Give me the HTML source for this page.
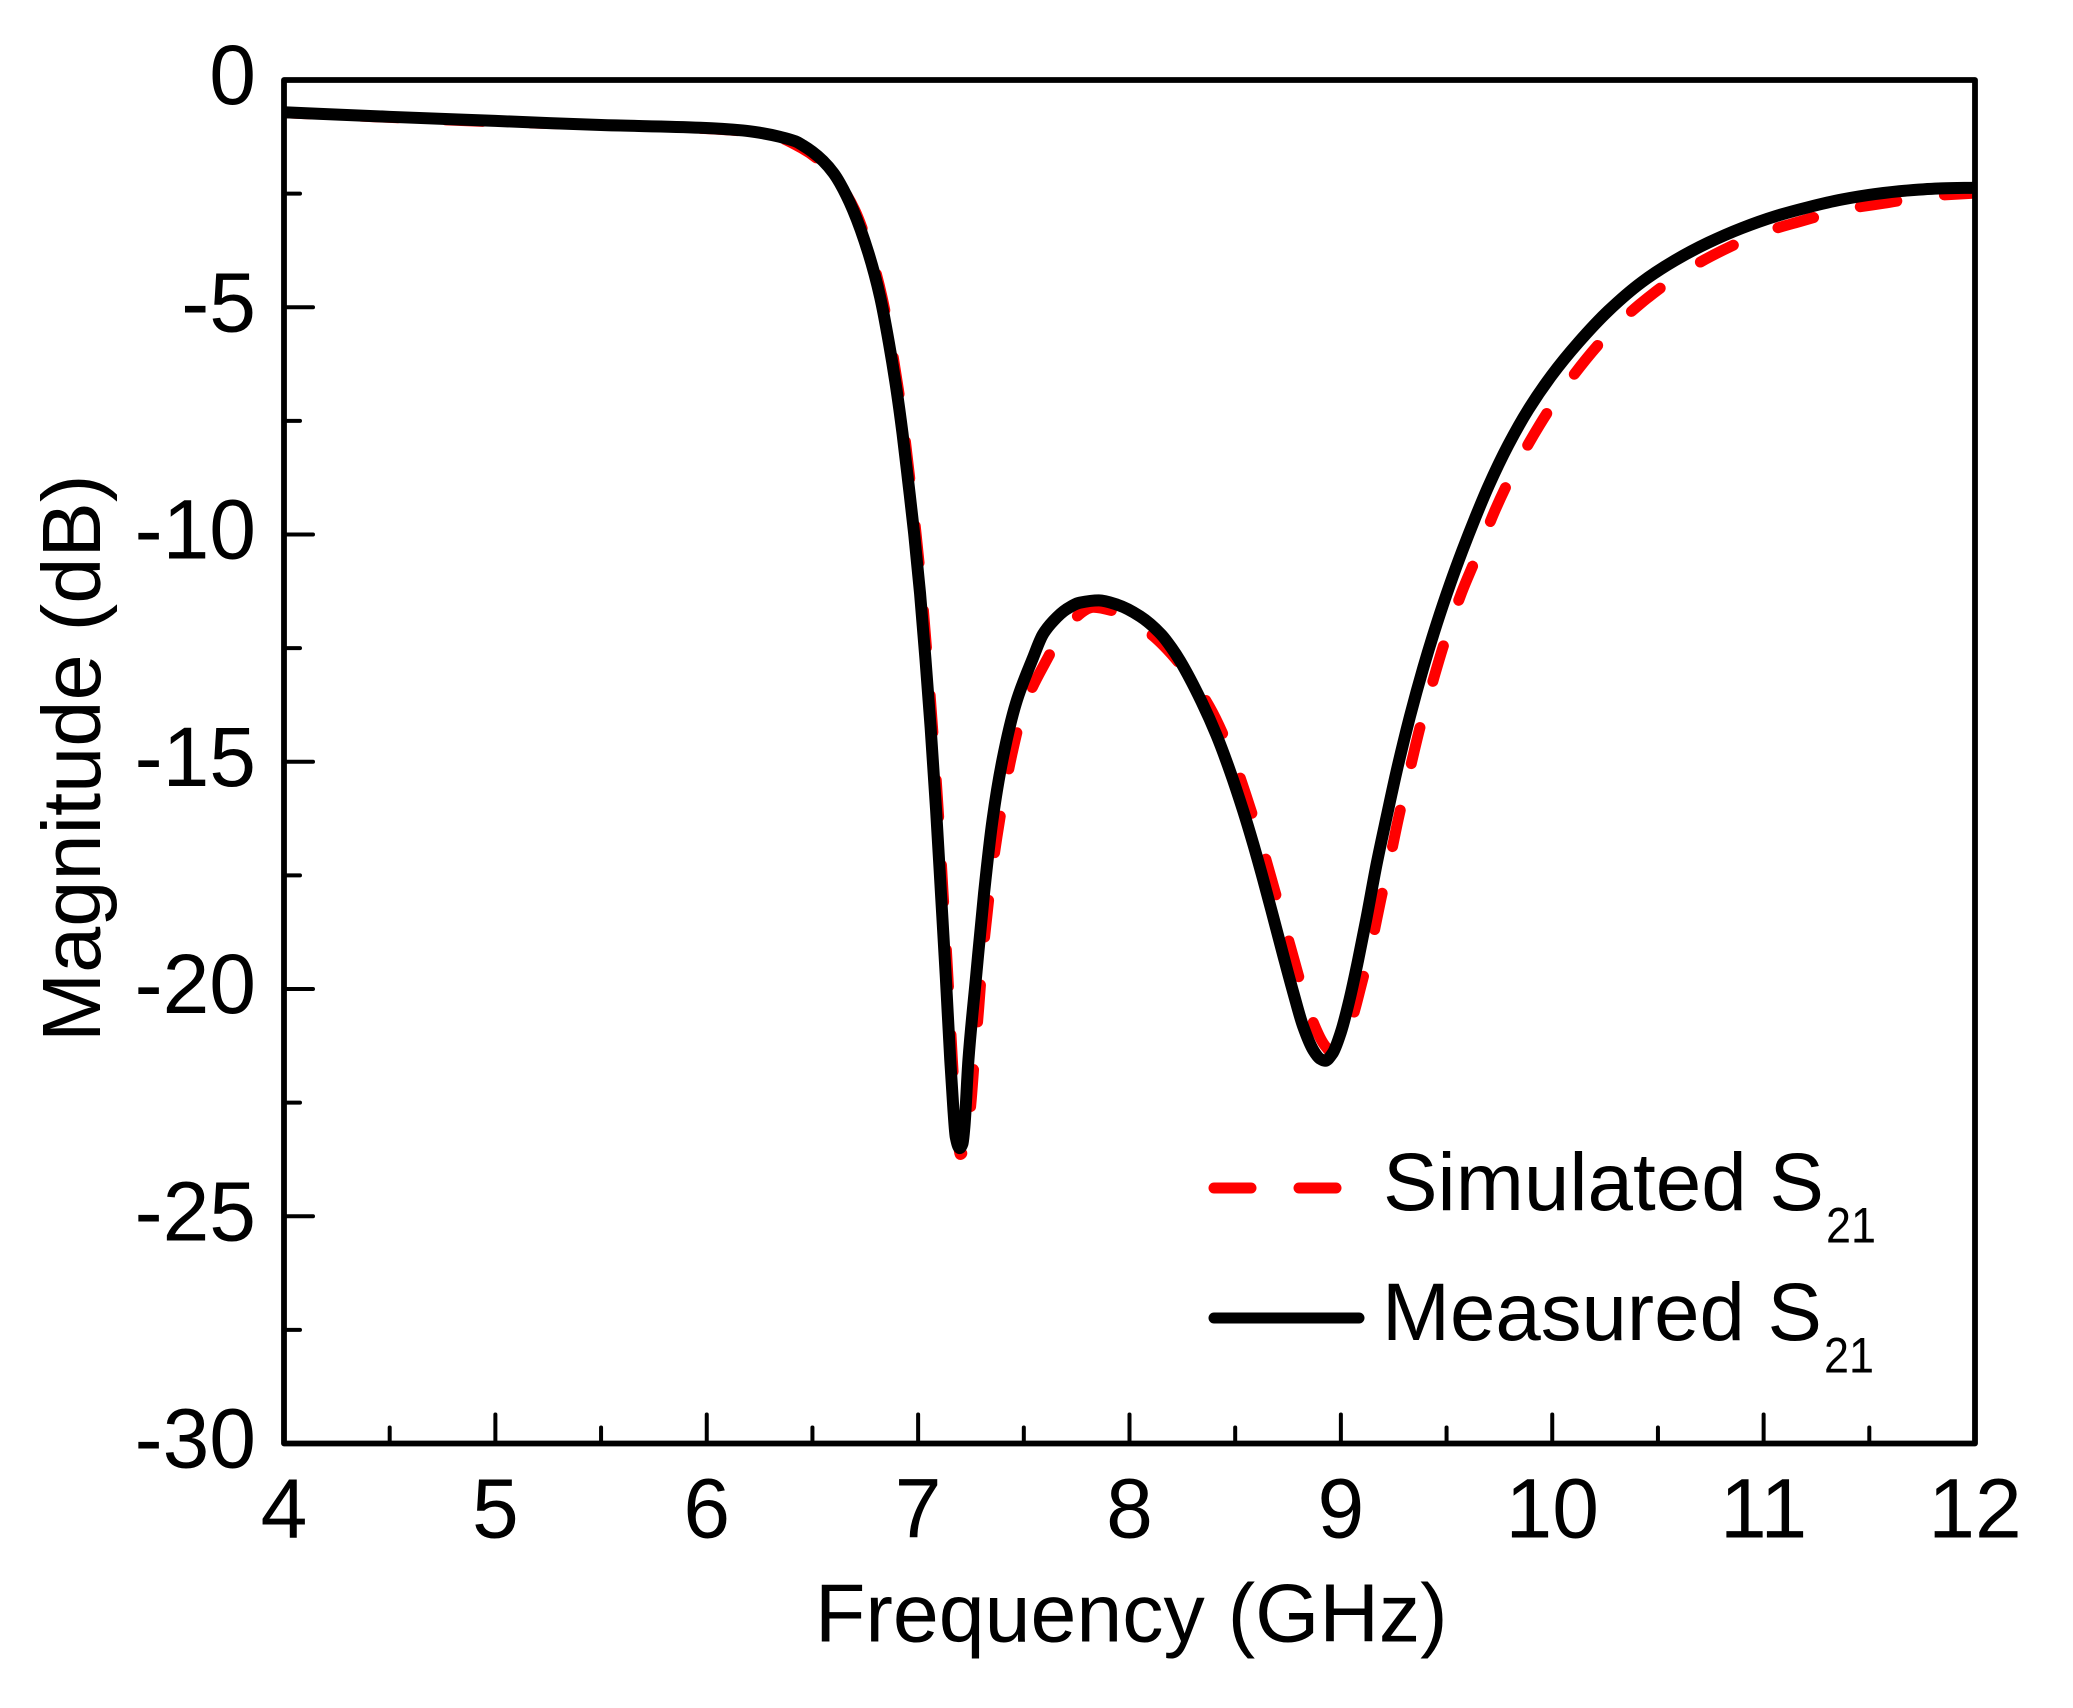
<!DOCTYPE html>
<html lang="en">
<head>
<meta charset="utf-8">
<title>Simulated and measured S21</title>
<style>
html,body{margin:0;padding:0;background:#fff;}
svg{display:block;}
text{font-family:"Liberation Sans",Arial,sans-serif;fill:#000;}
</style>
</head>
<body>
<svg id="chart" xmlns="http://www.w3.org/2000/svg" width="2073" height="1708" viewBox="0 0 2073 1708">
  <defs>
    <clipPath id="plot-clip"><rect x="284" y="80" width="1691" height="1363.5"/></clipPath>
  </defs>
  <rect x="0" y="0" width="2073" height="1708" fill="#fff"/>
  <g id="series" clip-path="url(#plot-clip)"></g>
  <rect x="284" y="80" width="1691" height="1363.5" fill="none" stroke="#000" stroke-width="5.8" stroke-linejoin="round"/>
  <g id="ticks"></g>
  <text x="815" y="1641.5" font-size="82.5">Frequency (GHz)</text>
  <text transform="translate(100 1042) rotate(-90)" x="0" y="0" font-size="83">Magnitude (dB)</text>
  <g>
    <line x1="1214" y1="1188" x2="1251" y2="1188" stroke="#f00" stroke-width="11" stroke-linecap="round"/>
    <line x1="1299" y1="1188" x2="1336" y2="1188" stroke="#f00" stroke-width="11" stroke-linecap="round"/>
    <text x="1383" y="1210" font-size="82" textLength="441" lengthAdjust="spacingAndGlyphs">Simulated S</text>
    <text x="1826" y="1242.5" font-size="50" textLength="50" lengthAdjust="spacingAndGlyphs">21</text>
    <line x1="1214" y1="1318" x2="1359" y2="1318" stroke="#000" stroke-width="11" stroke-linecap="round"/>
    <text x="1382" y="1340" font-size="82" textLength="440" lengthAdjust="spacingAndGlyphs">Measured S</text>
    <text x="1824" y="1372.5" font-size="50" textLength="50" lengthAdjust="spacingAndGlyphs">21</text>
  </g>
</svg>
<script>
const xMajorTicks = [4, 5, 6, 7, 8, 9, 10, 11, 12];
const xMinorTicks = [4.5, 5.5, 6.5, 7.5, 8.5, 9.5, 10.5, 11.5];
const yMajorTicks = [0, -5, -10, -15, -20, -25, -30];
const yMinorTicks = [-2.5, -7.5, -12.5, -17.5, -22.5, -27.5];

const measuredFreq = [4, 4.5, 5, 5.5, 5.97, 6.17, 6.25, 6.346, 6.42, 6.455, 6.5, 6.55, 6.6, 6.63, 6.692, 6.765, 6.82, 6.862, 6.898, 6.926, 6.954, 6.981, 7.009, 7.035, 7.059, 7.085, 7.108, 7.131, 7.152, 7.167, 7.178, 7.196, 7.21, 7.219, 7.238, 7.274, 7.312, 7.352, 7.399, 7.463, 7.543, 7.59, 7.64, 7.7, 7.765, 7.855, 7.945, 8.05, 8.15, 8.2, 8.239, 8.341, 8.412, 8.475, 8.538, 8.586, 8.633, 8.68, 8.728, 8.775, 8.822, 8.87, 8.9, 8.925, 8.96, 9, 9.04, 9.08, 9.12, 9.17, 9.217, 9.264, 9.327, 9.39, 9.453, 9.516, 9.575, 9.634, 9.697, 9.792, 9.887, 9.997, 10.123, 10.265, 10.423, 10.58, 10.738, 10.896, 11.054, 11.21, 11.37, 11.527, 11.685, 11.84, 12];
const measuredDb = [-0.71, -0.81, -0.9, -0.99, -1.05, -1.11, -1.16, -1.25, -1.35, -1.44, -1.58, -1.78, -2.05, -2.27, -2.86, -3.81, -4.77, -5.79, -6.82, -7.77, -8.87, -9.97, -11.29, -12.76, -14.24, -16.06, -17.89, -19.74, -21.56, -22.66, -23.26, -23.5, -23.4, -23.03, -21.56, -19.74, -17.89, -16.28, -14.96, -13.71, -12.72, -12.2, -11.9, -11.65, -11.5, -11.45, -11.55, -11.8, -12.2, -12.5, -12.78, -13.68, -14.42, -15.2, -16.08, -16.82, -17.6, -18.42, -19.27, -20.08, -20.83, -21.35, -21.53, -21.58, -21.42, -20.95, -20.25, -19.4, -18.47, -17.23, -16.2, -15.2, -14, -12.93, -11.97, -11.1, -10.35, -9.65, -8.95, -8.03, -7.25, -6.5, -5.78, -5.08, -4.45, -3.97, -3.58, -3.26, -3, -2.8, -2.63, -2.51, -2.43, -2.385, -2.37];

const simulatedFreq = [4, 5, 6, 6.3, 6.45, 6.55, 6.63, 6.7, 6.774, 6.829, 6.871, 6.907, 6.935, 6.963, 6.99, 7.018, 7.044, 7.068, 7.095, 7.118, 7.141, 7.162, 7.177, 7.188, 7.2, 7.215, 7.234, 7.25, 7.266, 7.287, 7.305, 7.324, 7.347, 7.373, 7.405, 7.443, 7.497, 7.6, 7.718, 7.83, 7.92, 8.09, 8.239, 8.378, 8.5, 8.55, 8.636, 8.68, 8.745, 8.784, 8.83, 8.866, 8.925, 8.965, 9.01, 9.053, 9.097, 9.15, 9.188, 9.236, 9.272, 9.33, 9.374, 9.437, 9.485, 9.571, 9.639, 9.73, 9.816, 9.94, 10.06, 10.246, 10.41, 10.63, 10.81, 10.988, 11.167, 11.393, 11.57, 11.795, 12];
const simulatedDb = [-0.72, -0.92, -1.07, -1.2, -1.5, -1.84, -2.3, -2.86, -3.81, -4.77, -5.79, -6.82, -7.77, -8.87, -9.97, -11.29, -12.76, -14.24, -16.06, -17.89, -19.74, -21.56, -22.66, -23.3, -23.64, -23.55, -23.2, -22.5, -21.55, -20.4, -19.3, -18.45, -17.5, -16.65, -15.75, -14.85, -13.86, -12.83, -11.95, -11.6, -11.68, -12.15, -12.85, -13.79, -15.05, -15.72, -17, -17.72, -18.8, -19.45, -20.2, -20.7, -21.25, -21.42, -21.1, -20.65, -19.9, -18.9, -18.05, -17.05, -16.25, -15.1, -14.25, -13.2, -12.45, -11.28, -10.52, -9.46, -8.62, -7.59, -6.75, -5.68, -4.95, -4.2, -3.74, -3.37, -3.12, -2.84, -2.71, -2.55, -2.49];

const xTickLabels = ["4", "5", "6", "7", "8", "9", "10", "11", "12"];
const yTickLabels = ["0", "-5", "-10", "-15", "-20", "-25", "-30"];

const NS = "http://www.w3.org/2000/svg";
const PLOT = { left: 284, right: 1975, top: 80, bottom: 1443.5 };
const X_MIN = 4, X_MAX = 12, Y_MIN = -30, Y_MAX = 0;

function xScale(v) {
  return PLOT.left + (v - X_MIN) / (X_MAX - X_MIN) * (PLOT.right - PLOT.left);
}
function yScale(v) {
  return PLOT.top + (Y_MAX - v) / (Y_MAX - Y_MIN) * (PLOT.bottom - PLOT.top);
}
/* Monotone cubic interpolation through the data points */
function smoothPath(xs, ys) {
  const px = xs.map(xScale);
  const py = ys.map(yScale);
  const n = px.length;
  const h = [], s = [], m = new Array(n).fill(0);
  for (let i = 0; i < n - 1; i++) {
    h.push(px[i + 1] - px[i]);
    s.push((py[i + 1] - py[i]) / h[i]);
  }
  m[0] = s[0];
  m[n - 1] = s[n - 2];
  for (let i = 1; i < n - 1; i++) {
    if (s[i - 1] * s[i] <= 0) {
      m[i] = 0;
    } else {
      const w1 = 2 * h[i] + h[i - 1], w2 = h[i] + 2 * h[i - 1];
      m[i] = (w1 + w2) / (w1 / s[i - 1] + w2 / s[i]);
    }
  }
  let d = "M" + px[0].toFixed(2) + " " + py[0].toFixed(2);
  for (let i = 0; i < n - 1; i++) {
    const dx = h[i] / 3;
    d += "C" + (px[i] + dx).toFixed(2) + " " + (py[i] + m[i] * dx).toFixed(2) + " " + (px[i + 1] - dx).toFixed(2) + " " + (py[i + 1] - m[i + 1] * dx).toFixed(2) + " " + px[i + 1].toFixed(2) + " " + py[i + 1].toFixed(2);
  }
  return d;
}
function makeTick(x1, y1, x2, y2) {
  const el = document.createElementNS(NS, "line");
  el.setAttribute("x1", x1);
  el.setAttribute("y1", y1);
  el.setAttribute("x2", x2);
  el.setAttribute("y2", y2);
  el.setAttribute("stroke", "#000");
  el.setAttribute("stroke-width", "4");
  el.setAttribute("stroke-linecap", "round");
  return el;
}

const seriesGroup = document.getElementById("series");
const ticksGroup = document.getElementById("ticks");

const simulatedLine = document.createElementNS(NS, "path");


simulatedLine.setAttribute("d", smoothPath(simulatedFreq, simulatedDb));
simulatedLine.setAttribute("fill", "none");
simulatedLine.setAttribute("stroke", "#f00");
simulatedLine.setAttribute("stroke-width", "11");
simulatedLine.setAttribute("stroke-linecap", "round");
simulatedLine.setAttribute("stroke-linejoin", "round");
simulatedLine.setAttribute("stroke-dasharray", "37 48");
simulatedLine.setAttribute("stroke-dashoffset", "8");
seriesGroup.appendChild(simulatedLine);

const measuredLine = document.createElementNS(NS, "path");


measuredLine.setAttribute("d", smoothPath(measuredFreq, measuredDb));
measuredLine.setAttribute("fill", "none");
measuredLine.setAttribute("stroke", "#000");
measuredLine.setAttribute("stroke-width", "12");
measuredLine.setAttribute("stroke-linejoin", "round");
seriesGroup.appendChild(measuredLine);

xMajorTicks.forEach((v, i) => {
  const tick = makeTick(xScale(v), PLOT.bottom, xScale(v), PLOT.bottom - 29);
  
  
  ticksGroup.appendChild(tick);
  const label = document.createElementNS(NS, "text");
  
  
  label.setAttribute("x", xScale(v));
  label.setAttribute("y", 1537.5);
  label.setAttribute("font-size", "84");
  label.setAttribute("text-anchor", "middle");
  label.textContent = xTickLabels[i];
  ticksGroup.appendChild(label);
});
xMinorTicks.forEach((v) => {
  const tick = makeTick(xScale(v), PLOT.bottom, xScale(v), PLOT.bottom - 16);
  
  
  ticksGroup.appendChild(tick);
});
yMajorTicks.forEach((v, i) => {
  const tick = makeTick(PLOT.left, yScale(v), PLOT.left + 29, yScale(v));
  
  
  ticksGroup.appendChild(tick);
  const label = document.createElementNS(NS, "text");
  
  
  label.setAttribute("x", 256);
  label.setAttribute("y", yScale(v) + 24);
  label.setAttribute("font-size", "84");
  label.setAttribute("text-anchor", "end");
  label.textContent = yTickLabels[i];
  ticksGroup.appendChild(label);
});
yMinorTicks.forEach((v) => {
  const tick = makeTick(PLOT.left, yScale(v), PLOT.left + 16, yScale(v));
  
  
  ticksGroup.appendChild(tick);
});
</script>
</body>
</html>
